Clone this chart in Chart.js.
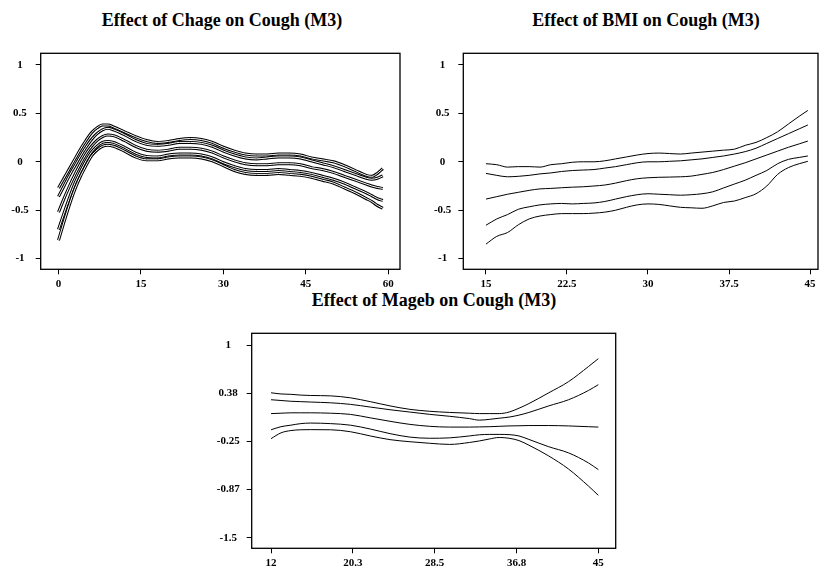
<!DOCTYPE html>
<html>
<head>
<meta charset="utf-8">
<script src="https://cdn.jsdelivr.net/npm/chart.js@4.4.0/dist/chart.umd.min.js"></script>
<style>
body { margin: 0; width: 819px; height: 570px; overflow: hidden; background: #fff; position: relative; }
canvas { position: absolute; }
.title { position: absolute; width: 400px; text-align: center; font: bold 18px "Liberation Serif", "Times New Roman", serif; line-height: 18px; color: #000; white-space: nowrap; }
</style>
</head>
<body>
<div class="title" style="left:22px;top:11px">Effect of Chage on Cough (M3)</div>
<div class="title" style="left:446px;top:11px">Effect of BMI on Cough (M3)</div>
<div class="title" style="left:234px;top:291px">Effect of Mageb on Cough (M3)</div>
<canvas id="chage" width="410" height="250" style="left:0;top:40px"></canvas>
<canvas id="bmi" width="409" height="250" style="left:410px;top:40px"></canvas>
<canvas id="mageb" width="440" height="250" style="left:190px;top:320px"></canvas>
<script>
// Chage panel
var chageX = [0, 1, 2, 3, 4, 5, 6, 7, 8, 9, 10, 12, 14, 16, 18, 20, 22, 24, 26, 28, 30, 32, 34, 36, 38, 40, 42, 44, 46, 48, 50, 52, 54, 56, 57, 58, 59];
var chageUp2 = [-0.27, -0.17, -0.07, 0.03, 0.13, 0.22, 0.30, 0.35, 0.38, 0.38, 0.36, 0.31, 0.26, 0.22, 0.20, 0.21, 0.23, 0.24, 0.23, 0.20, 0.15, 0.11, 0.08, 0.07, 0.07, 0.08, 0.08, 0.07, 0.04, 0.02, 0.00, -0.04, -0.09, -0.14, -0.15, -0.12, -0.07];
var chageUp1 = [-0.36, -0.25, -0.14, -0.04, 0.06, 0.15, 0.23, 0.29, 0.33, 0.345, 0.33, 0.28, 0.22, 0.18, 0.17, 0.18, 0.20, 0.20, 0.19, 0.16, 0.11, 0.07, 0.04, 0.03, 0.04, 0.05, 0.05, 0.04, 0.01, -0.02, -0.05, -0.09, -0.13, -0.17, -0.18, -0.17, -0.145];
var chageFit = [-0.52, -0.38, -0.25, -0.13, -0.02, 0.08, 0.16, 0.22, 0.26, 0.276, 0.27, 0.22, 0.16, 0.12, 0.11, 0.12, 0.14, 0.14, 0.13, 0.10, 0.05, 0.01, -0.02, -0.03, -0.03, -0.02, -0.02, -0.03, -0.06, -0.08, -0.11, -0.15, -0.19, -0.23, -0.25, -0.265, -0.275];
var chageLo1 = [-0.70, -0.53, -0.37, -0.22, -0.10, 0.01, 0.10, 0.16, 0.20, 0.21, 0.20, 0.15, 0.09, 0.055, 0.05, 0.07, 0.08, 0.08, 0.07, 0.04, -0.01, -0.05, -0.08, -0.09, -0.09, -0.08, -0.09, -0.10, -0.12, -0.15, -0.18, -0.22, -0.27, -0.32, -0.35, -0.38, -0.40];
var chageLo2 = [-0.81, -0.62, -0.44, -0.28, -0.15, -0.04, 0.06, 0.12, 0.16, 0.17, 0.16, 0.11, 0.05, 0.02, 0.02, 0.04, 0.05, 0.05, 0.04, 0.01, -0.04, -0.09, -0.12, -0.13, -0.13, -0.12, -0.13, -0.14, -0.16, -0.19, -0.22, -0.27, -0.32, -0.38, -0.41, -0.45, -0.48];
var chageXTicks = [0, 15, 30, 45, 60];
var chageXLabels = ['0', '15', '30', '45', '60'];
var chageYTicks = [-1, -0.5, 0, 0.5, 1];
var chageYLabels = ['-1', '-0.5', '0', '0.5', '1'];

// BMI panel
var bmiX = [15, 16, 17, 18, 19, 20, 21, 22, 23, 24, 25, 26, 27, 28, 29, 30, 31, 32, 33, 34, 35, 36, 37, 38, 39, 40, 41, 42, 43, 44, 44.8];
var bmiUp2 = [-0.02, -0.03, -0.055, -0.05, -0.05, -0.055, -0.03, -0.02, -0.005, 0.0, 0.0, 0.01, 0.03, 0.05, 0.07, 0.085, 0.09, 0.085, 0.08, 0.09, 0.10, 0.11, 0.12, 0.13, 0.17, 0.20, 0.25, 0.31, 0.39, 0.47, 0.53];
var bmiUp1 = [-0.12, -0.14, -0.155, -0.15, -0.14, -0.125, -0.115, -0.10, -0.09, -0.085, -0.08, -0.065, -0.05, -0.03, -0.01, 0.0, 0.0, 0.005, 0.01, 0.02, 0.03, 0.045, 0.06, 0.08, 0.105, 0.14, 0.19, 0.24, 0.29, 0.34, 0.38];
var bmiFit = [-0.385, -0.36, -0.335, -0.315, -0.295, -0.28, -0.275, -0.268, -0.262, -0.258, -0.25, -0.24, -0.22, -0.195, -0.175, -0.165, -0.16, -0.158, -0.155, -0.148, -0.13, -0.11, -0.08, -0.045, -0.01, 0.03, 0.07, 0.11, 0.15, 0.185, 0.214];
var bmiLo1 = [-0.655, -0.59, -0.545, -0.49, -0.465, -0.445, -0.435, -0.43, -0.435, -0.43, -0.425, -0.41, -0.385, -0.36, -0.34, -0.33, -0.335, -0.34, -0.345, -0.34, -0.33, -0.31, -0.27, -0.23, -0.19, -0.14, -0.09, -0.02, 0.025, 0.045, 0.06];
var bmiLo2 = [-0.85, -0.77, -0.73, -0.65, -0.59, -0.56, -0.545, -0.535, -0.535, -0.535, -0.53, -0.52, -0.50, -0.47, -0.445, -0.435, -0.44, -0.455, -0.47, -0.475, -0.48, -0.455, -0.42, -0.405, -0.37, -0.33, -0.25, -0.13, -0.06, -0.02, 0.005];
var bmiXTicks = [15, 22.5, 30, 37.5, 45];
var bmiXLabels = ['15', '22.5', '30', '37.5', '45'];
var bmiYTicks = [-1, -0.5, 0, 0.5, 1];
var bmiYLabels = ['-1', '-0.5', '0', '0.5', '1'];

// Mageb panel
var magebX = [12, 13, 14, 15, 16, 18, 20, 22, 24, 26, 28, 30, 32, 33, 34, 35, 36, 37, 38, 40, 42, 44, 45];
var magebUp2 = [0.38, 0.365, 0.36, 0.35, 0.345, 0.34, 0.315, 0.265, 0.21, 0.165, 0.14, 0.125, 0.115, 0.11, 0.11, 0.11, 0.13, 0.18, 0.24, 0.38, 0.525, 0.72, 0.823];
var magebUp1 = [0.29, 0.28, 0.27, 0.265, 0.26, 0.25, 0.23, 0.195, 0.16, 0.13, 0.10, 0.075, 0.045, 0.025, 0.035, 0.05, 0.065, 0.09, 0.125, 0.21, 0.29, 0.41, 0.485];
var magebFit = [0.11, 0.115, 0.12, 0.12, 0.12, 0.115, 0.10, 0.055, 0.01, -0.03, -0.055, -0.065, -0.065, -0.063, -0.06, -0.055, -0.05, -0.048, -0.045, -0.045, -0.05, -0.06, -0.065];
var magebLo1 = [-0.10, -0.06, -0.04, -0.02, -0.013, -0.02, -0.04, -0.09, -0.15, -0.195, -0.21, -0.205, -0.18, -0.165, -0.16, -0.16, -0.163, -0.18, -0.225, -0.32, -0.40, -0.53, -0.617];
var magebLo2 = [-0.215, -0.14, -0.11, -0.10, -0.098, -0.10, -0.125, -0.18, -0.228, -0.255, -0.275, -0.29, -0.265, -0.245, -0.22, -0.20, -0.21, -0.24, -0.30, -0.44, -0.61, -0.83, -0.95];
var magebXTicks = [12, 20.25, 28.5, 36.75, 45];
var magebXLabels = ['12', '20.3', '28.5', '36.8', '45'];
var magebYTicks = [-1.5, -0.875, -0.25, 0.375, 1];
var magebYLabels = ['-1.5', '-0.87', '-0.25', '0.38', '1'];

const tickFont = { family: '"Liberation Serif", "Times New Roman", serif', size: 11, weight: 'bold' };

const boxPlugin = {
    id: 'box',
    afterDraw(chart) {
        const a = chart.chartArea;
        const ctx = chart.ctx;
        ctx.save();
        ctx.strokeStyle = '#000';
        ctx.lineWidth = 1.3;
        ctx.strokeRect(a.left, a.top, a.right - a.left, a.bottom - a.top);
        ctx.restore();
    }
};

function pts(xs, ys) {
    return xs.map((x, i) => ({ x: x, y: ys[i] }));
}

function drawPanel(id, xs, curves, doubleLine, ax, pad) {
    const datasets = [];
    curves.forEach((ys, k) => {
        if (doubleLine) {
            datasets.push({ data: pts(xs, ys), borderColor: '#000', borderWidth: 3, order: 20 - 2 * k });
            datasets.push({ data: pts(xs, ys), borderColor: '#fff', borderWidth: 1, order: 19 - 2 * k });
        } else {
            datasets.push({ data: pts(xs, ys), borderColor: '#000', borderWidth: 1 });
        }
    });
    datasets.forEach(d => {
        d.showLine = true;
        d.pointRadius = 0;
        d.tension = 0.4;
        d.cubicInterpolationMode = 'monotone';
    });

    new Chart(document.getElementById(id), {
        type: 'scatter',
        data: { datasets: datasets },
        options: {
            responsive: false,
            animation: false,
            events: [],
            layout: { padding: pad },
            plugins: { legend: { display: false }, tooltip: { enabled: false } },
            scales: {
                x: {
                    type: 'linear',
                    min: ax.xMin,
                    max: ax.xMax,
                    afterBuildTicks: s => { s.ticks = ax.xTicks.map(v => ({ value: v })); },
                    afterFit: s => { s.height = 20; s.paddingLeft = 0; s.paddingRight = 0; },
                    grid: { drawOnChartArea: false, drawTicks: true, tickLength: 5, color: '#000' },
                    border: { display: false },
                    ticks: { autoSkip: false, maxRotation: 0, padding: 3, color: '#000', font: tickFont,
                        callback: (v, i) => ax.xLabels[i] }
                },
                y: {
                    type: 'linear',
                    min: ax.yMin,
                    max: ax.yMax,
                    afterBuildTicks: s => { s.ticks = ax.yTicks.map(v => ({ value: v })); },
                    afterFit: s => { s.width = 40; s.paddingTop = 0; s.paddingBottom = 0; },
                    grid: { drawOnChartArea: false, drawTicks: true, tickLength: 5, color: '#000' },
                    border: { display: false },
                    ticks: { autoSkip: false, padding: 7, crossAlign: 'center', color: '#000', font: tickFont,
                        callback: (v, i) => ax.yLabels[i] }
                }
            }
        },
        plugins: [boxPlugin]
    });
}

drawPanel('chage', chageX, [chageUp2, chageUp1, chageFit, chageLo1, chageLo2], true,
    { xMin: -3.24, xMax: 62.13, yMin: -1.11, yMax: 1.12, xTicks: chageXTicks, xLabels: chageXLabels, yTicks: chageYTicks, yLabels: chageYLabels },
    { left: 0.7, right: 10, top: 13.3, bottom: 0.7 });

drawPanel('bmi', bmiX, [bmiUp2, bmiUp1, bmiFit, bmiLo1, bmiLo2], false,
    { xMin: 12.9, xMax: 45.74, yMin: -1.11, yMax: 1.12, xTicks: bmiXTicks, xLabels: bmiXLabels, yTicks: bmiYTicks, yLabels: bmiYLabels },
    { left: 13.3, right: 1, top: 13.3, bottom: 0.7 });

drawPanel('mageb', magebX, [magebUp2, magebUp1, magebFit, magebLo1, magebLo2], false,
    { xMin: 10.05, xMax: 46.75, yMin: -1.638, yMax: 1.152, xTicks: magebXTicks, xLabels: magebXLabels, yTicks: magebYTicks, yLabels: magebYLabels },
    { left: 21.7, right: 14.3, top: 13.3, bottom: 1.7 });
</script>
</body>
</html>
